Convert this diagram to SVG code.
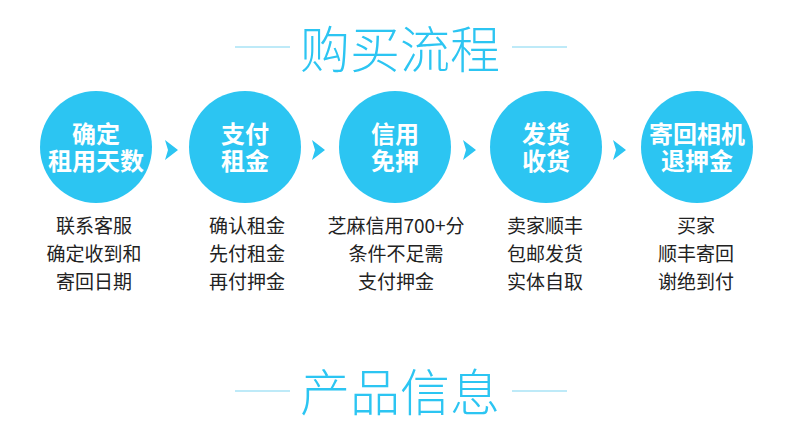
<svg xmlns="http://www.w3.org/2000/svg" width="790" height="438" viewBox="0 0 790 438">
<style>
.title{font-family:"Noto Sans CJK SC","Noto Sans",sans-serif;font-size:50px;font-weight:300;fill:#2cc5f2;text-anchor:middle}
.rule{stroke:#a9e3f6;stroke-width:1.5}
.circ{fill:#2cc5f2}
.ct{font-family:"Noto Sans CJK SC","Noto Sans",sans-serif;font-size:24px;font-weight:700;fill:#ffffff;text-anchor:middle}
.dt{font-family:"Noto Sans CJK SC","Noto Sans",sans-serif;font-size:19px;fill:#222222;text-anchor:middle}
.arr{fill:#2cc5f2}
</style>
<rect width="790" height="438" fill="#ffffff"/>
<g id="title1">
<line class="rule" x1="235" y1="47" x2="290" y2="47"/>
<line class="rule" x1="512" y1="47" x2="567" y2="47"/>
<text class="title" x="400" y="68">购买流程</text>
</g>
<g id="connectors">
<polygon class="arr" points="165,140 178,150 165,160 168,150"/>
<polygon class="arr" points="312,140 325,150 312,160 315,150"/>
<polygon class="arr" points="463,140 476,150 463,160 466,150"/>
<polygon class="arr" points="613,140 626,150 613,160 616,150"/>
</g>
<g id="step1">
<circle class="circ" cx="96" cy="147" r="56"/>
<text class="ct" x="96" y="143">确定</text>
<text class="ct" x="96" y="170">租用天数</text>
<text class="dt" x="94" y="233">联系客服</text>
<text class="dt" x="94" y="261">确定收到和</text>
<text class="dt" x="94" y="289">寄回日期</text>
</g>
<g id="step2">
<circle class="circ" cx="245" cy="147" r="56"/>
<text class="ct" x="245" y="143">支付</text>
<text class="ct" x="245" y="170">租金</text>
<text class="dt" x="247" y="233">确认租金</text>
<text class="dt" x="247" y="261">先付租金</text>
<text class="dt" x="247" y="289">再付押金</text>
</g>
<g id="step3">
<circle class="circ" cx="395" cy="147" r="56"/>
<text class="ct" x="395" y="143">信用</text>
<text class="ct" x="395" y="170">免押</text>
<text class="dt" x="396" y="233">芝麻信用700+分</text>
<text class="dt" x="396" y="261">条件不足需</text>
<text class="dt" x="396" y="289">支付押金</text>
</g>
<g id="step4">
<circle class="circ" cx="546" cy="147" r="56"/>
<text class="ct" x="546" y="143">发货</text>
<text class="ct" x="546" y="170">收货</text>
<text class="dt" x="545" y="233">卖家顺丰</text>
<text class="dt" x="545" y="261">包邮发货</text>
<text class="dt" x="545" y="289">实体自取</text>
</g>
<g id="step5">
<circle class="circ" cx="697" cy="147" r="56"/>
<text class="ct" x="697" y="143">寄回相机</text>
<text class="ct" x="697" y="170">退押金</text>
<text class="dt" x="696" y="233">买家</text>
<text class="dt" x="696" y="261">顺丰寄回</text>
<text class="dt" x="696" y="289">谢绝到付</text>
</g>
<g id="title2">
<line class="rule" x1="235" y1="391" x2="290" y2="391"/>
<line class="rule" x1="512" y1="391" x2="567" y2="391"/>
<text class="title" x="400" y="411">产品信息</text>
</g>
</svg>
